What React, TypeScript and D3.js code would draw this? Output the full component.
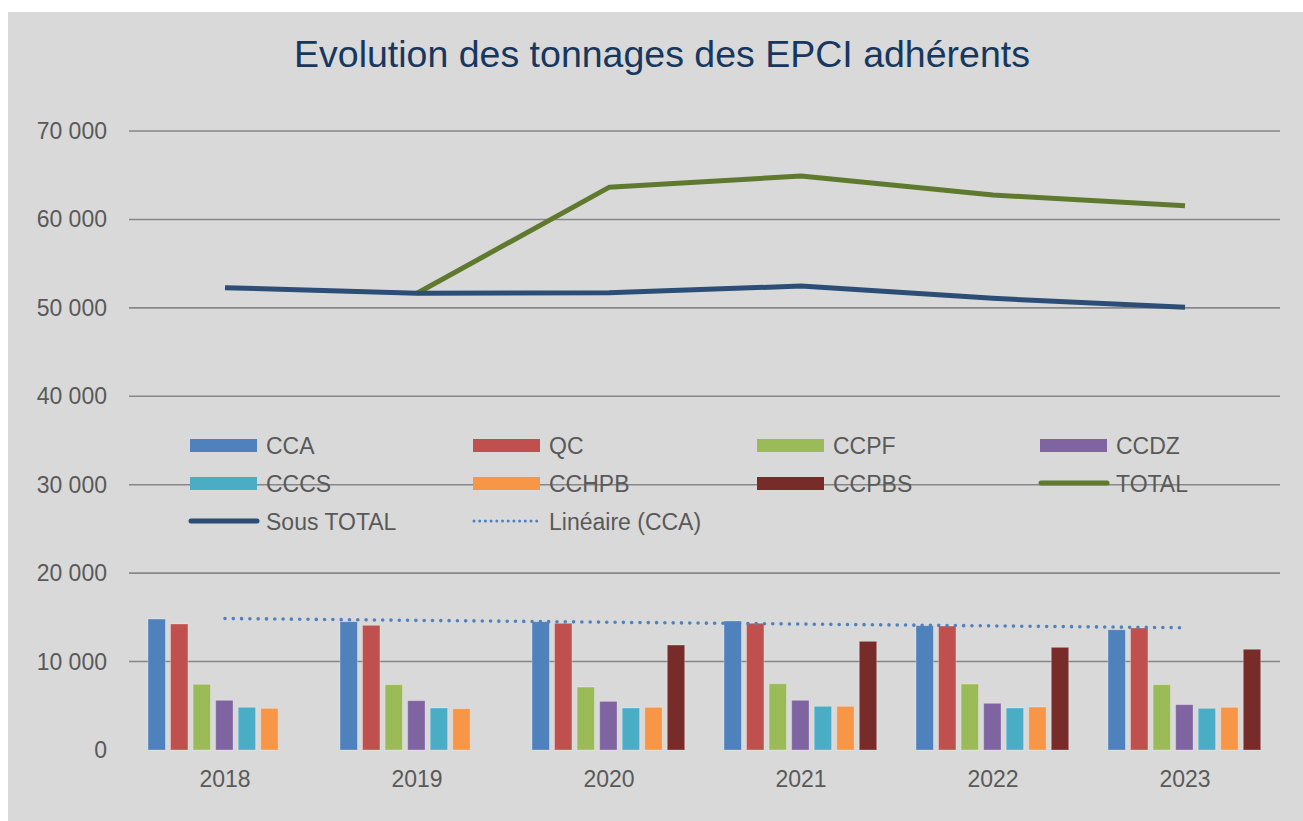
import React from 'react';
import * as d3 from 'd3';

const YEARS = ['2018', '2019', '2020', '2021', '2022', '2023'];
const CCA = [14810, 14510, 14510, 14590, 14060, 13600];
const QC = [14250, 14100, 14330, 14330, 14020, 13800];
const CCPF = [7430, 7390, 7120, 7500, 7460, 7390];
const CCDZ = [5620, 5580, 5500, 5620, 5280, 5130];
const CCCS = [4830, 4750, 4750, 4940, 4750, 4710];
const CCHPB = [4710, 4670, 4830, 4940, 4860, 4830];
const CCPBS: (number | null)[] = [null, null, 11870, 12290, 11610, 11390];
const TOTAL: (number | null)[] = [null, 51650, 63630, 64910, 62760, 61550];
const SOUS_TOTAL = [52280, 51650, 51700, 52470, 51080, 50060];
const Y_TICKS = [0, 10000, 20000, 30000, 40000, 50000, 60000, 70000];

const BAR_SERIES = [
  { name: 'CCA', values: CCA as (number | null)[], color: '#4F81BD' },
  { name: 'QC', values: QC as (number | null)[], color: '#C0504D' },
  { name: 'CCPF', values: CCPF as (number | null)[], color: '#9BBB59' },
  { name: 'CCDZ', values: CCDZ as (number | null)[], color: '#8064A2' },
  { name: 'CCCS', values: CCCS as (number | null)[], color: '#4BACC6' },
  { name: 'CCHPB', values: CCHPB as (number | null)[], color: '#F79646' },
  { name: 'CCPBS', values: CCPBS, color: '#772C2A' },
];

const TOTAL_COLOR = '#5F7A2E';
const SOUS_COLOR = '#2C4D75';
const TREND_COLOR = '#4F81BD';
const TEXT_COLOR = '#595959';
const FONT = '"Liberation Sans", Arial, sans-serif';

export default function App() {
  const W = 1303;
  const H = 821;
  const x = d3.scaleBand<string>().domain(YEARS).range([129, 1281]).padding(0);
  const inner = d3
    .scaleBand<string>()
    .domain(BAR_SERIES.map((s) => s.name))
    .range([-77, 75.7])
    .paddingInner(0.228)
    .paddingOuter(0);
  const y = d3.scaleLinear().domain([0, 70000]).range([750, 131]);
  const cx = (i: number) => (x(YEARS[i]) as number) + x.bandwidth() / 2;

  // Linear trend (least squares) of CCA
  const n = CCA.length;
  const xs = d3.range(n);
  const mx = d3.mean(xs) as number;
  const my = d3.mean(CCA) as number;
  const slope =
    d3.sum(xs, (xi) => (xi - mx) * (CCA[xi] - my)) / d3.sum(xs, (xi) => (xi - mx) ** 2);
  const trend = xs.map((xi) => my + slope * (xi - mx));

  const lineGen = d3
    .line<number | null>()
    .defined((d) => d != null)
    .x((_, i) => cx(i))
    .y((d) => y(d as number));

  const legendCols = [190, 473, 757, 1040];
  const legendRows = [446, 484, 522];
  const legendItems: { name: string; type: 'bar' | 'line' | 'dot'; color: string }[] = [
    ...BAR_SERIES.map((s) => ({ name: s.name, type: 'bar' as const, color: s.color })),
    { name: 'TOTAL', type: 'line', color: TOTAL_COLOR },
    { name: 'Sous TOTAL', type: 'line', color: SOUS_COLOR },
    { name: 'Linéaire (CCA)', type: 'dot', color: TREND_COLOR },
  ];

  return (
    <svg
      width={W}
      height={H}
      style={{ position: 'absolute', left: 0, top: 0, background: '#ffffff' }}
      fontFamily={FONT}
    >
      <rect x={8} y={12} width={W - 8} height={H - 12} fill="#D9D9D9" />
      <text x={662} y={67} textAnchor="middle" fontSize={37.5} fill="#17375E">
        Evolution des tonnages des EPCI adhérents
      </text>

      {/* gridlines */}
      {Y_TICKS.filter((t) => t > 0).map((t) => (
        <line key={t} x1={129} x2={1280} y1={y(t)} y2={y(t)} stroke="#878787" strokeWidth={1.6} />
      ))}
      {/* y tick labels */}
      {Y_TICKS.map((t) => (
        <text key={t} x={107} y={y(t) + 8} textAnchor="end" fontSize={23} fill={TEXT_COLOR}>
          {t === 0 ? '0' : d3.format(',')(t).replace(/,/g, ' ')}
        </text>
      ))}
      {/* x labels */}
      {YEARS.map((yr, i) => (
        <text key={yr} x={cx(i)} y={787} textAnchor="middle" fontSize={23} fill={TEXT_COLOR}>
          {yr}
        </text>
      ))}

      {/* bars */}
      {BAR_SERIES.map((s) =>
        s.values.map((v, i) =>
          v == null ? null : (
            <rect
              key={s.name + i}
              x={cx(i) + (inner(s.name) as number)}
              y={y(v)}
              width={inner.bandwidth()}
              height={y(0) - y(v)}
              fill={s.color}
              stroke="rgba(255,255,255,0.28)"
              strokeWidth={1}
            />
          )
        )
      )}

      {/* trend line */}
      <path
        d={lineGen(trend) as string}
        fill="none"
        stroke={TREND_COLOR}
        strokeWidth={3.6}
        strokeDasharray="0 8.3"
        strokeLinecap="round"
      />

      {/* lines */}
      <path d={lineGen(TOTAL) as string} fill="none" stroke={TOTAL_COLOR} strokeWidth={5} strokeLinejoin="round" />
      <path d={lineGen(SOUS_TOTAL) as string} fill="none" stroke={SOUS_COLOR} strokeWidth={5} strokeLinejoin="round" />

      {/* legend */}
      {legendItems.map((it, k) => {
        const col = k % 4;
        const row = Math.floor(k / 4);
        const lx = legendCols[col];
        const ly = legendRows[row];
        return (
          <g key={it.name}>
            {it.type === 'bar' && (
              <rect x={lx} y={ly - 7} width={67} height={13} fill={it.color} />
            )}
            {it.type === 'line' && (
              <line x1={lx + 1} x2={lx + 67} y1={ly - 1} y2={ly - 1} stroke={it.color} strokeWidth={5} strokeLinecap="round" />
            )}
            {it.type === 'dot' && (
              <line
                x1={lx + 1}
                x2={lx + 69}
                y1={ly - 1}
                y2={ly - 1}
                stroke={it.color}
                strokeWidth={3}
                strokeDasharray="0 5.7"
                strokeLinecap="round"
              />
            )}
            <text x={lx + 76} y={ly + 8} fontSize={23} fill={TEXT_COLOR}>
              {it.name}
            </text>
          </g>
        );
      })}
    </svg>
  );
}
